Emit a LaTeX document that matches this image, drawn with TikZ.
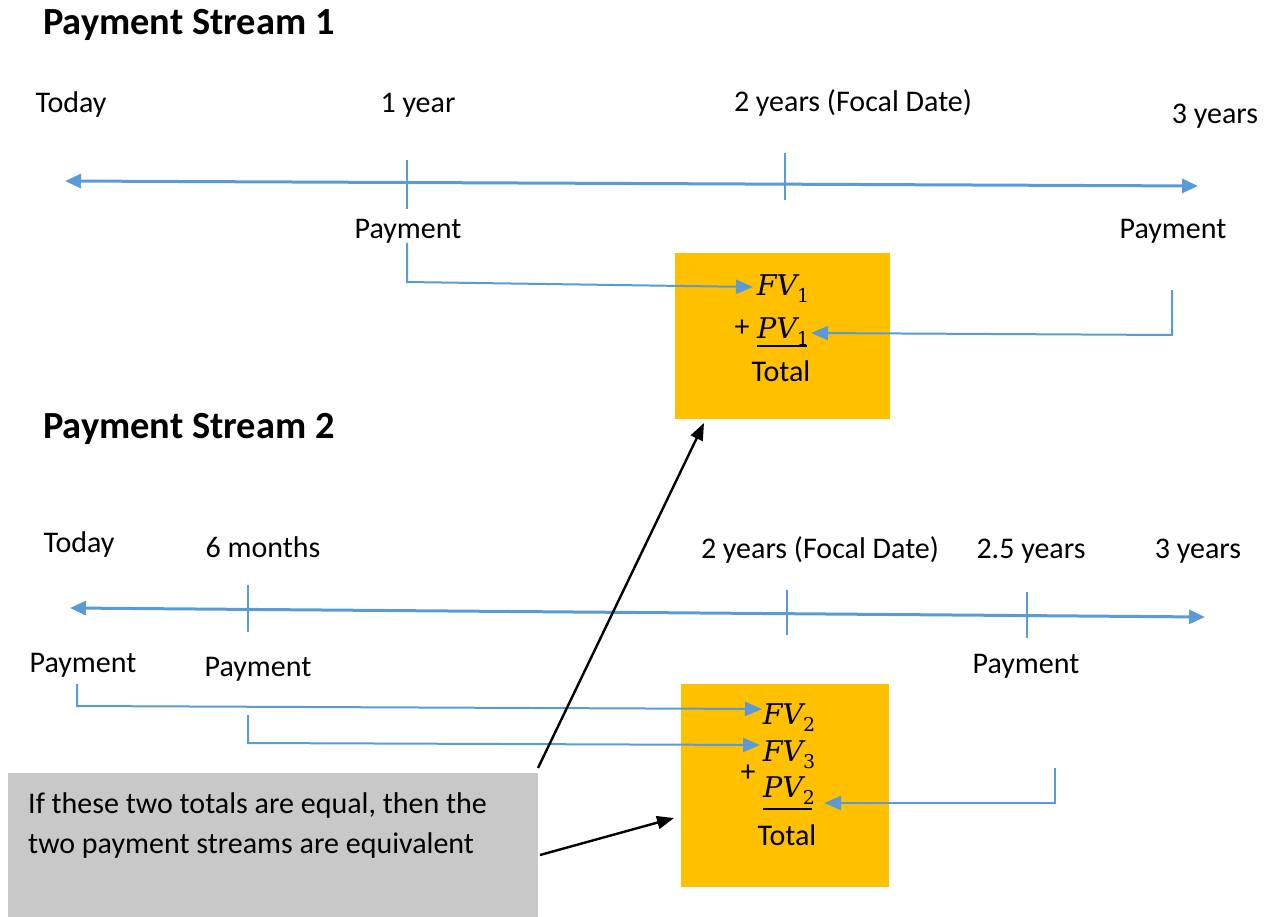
\documentclass[tikz,border=0pt]{standalone}
\usepackage{fontspec}
\setmainfont{Carlito}
\newfontfamily\mf{DejaVu Serif}
\newcommand{\subidx}[1]{\raisebox{-0.25em}{\fontsize{19}{21}\selectfont\upshape #1}}
\usetikzlibrary{arrows.meta}
\definecolor{axisblue}{HTML}{5B9BD5}
\definecolor{boxorange}{HTML}{FFC000}
\definecolor{notegray}{HTML}{C8C8C8}
\begin{document}
\begin{tikzpicture}[x=1pt,y=-1pt,
 lbl/.style={font=\fontsize{30}{36}\selectfont, inner sep=0pt, anchor=base},
 head/.style={font=\bfseries\fontsize{38.4}{46}\selectfont, inner sep=0pt, anchor=base west},
 mathlbl/.style={font=\mf\itshape\fontsize{28.5}{32}\selectfont, inner sep=1pt, anchor=base},
 axis/.style={draw=axisblue, line width=3pt, {Triangle[length=16pt,width=14pt]}-{Triangle[length=16pt,width=14pt]}},
 tickmark/.style={draw=axisblue, line width=1.6pt},
 conn/.style={draw=axisblue, line width=2pt, -{Triangle[length=17pt,width=14pt]}},
 totalbox/.style={fill=boxorange, draw=none, inner sep=0pt, anchor=north west},
 notebox/.style={fill=notegray, draw=none, inner sep=0pt, anchor=north west},
 pointer/.style={draw=black, line width=2.4pt, -{Triangle[length=17pt,width=13pt]}},
 rule/.style={draw=black, line width=1.8pt}]

\useasboundingbox (0,0) rectangle (1281,917);

% ---------- Payment Stream 1 ----------
\node[head] (h1) at (43,35) {Payment Stream 1};
\node[lbl] (s1today) at (71,113) {Today};
\node[lbl] (s1y1) at (418,113) {1 year};
\node[lbl] (s1y2) at (853,112) {2 years (Focal Date)};
\node[lbl] (s1y3) at (1215,124) {3 years};

\coordinate (a1l) at (65,181);
\coordinate (a1r) at (1198,186);
\draw[axis] (a1l) -- (a1r);
\coordinate (t1at) at (407,160); \coordinate (t1ab) at (407,209);
\coordinate (t1bt) at (785,153); \coordinate (t1bb) at (785,200);
\draw[tickmark] (t1at) -- (t1ab);
\draw[tickmark] (t1bt) -- (t1bb);

\node[lbl] (s1p1) at (408,239) {Payment};
\node[lbl] (s1p3) at (1173,239) {Payment};

\node[totalbox, minimum width=215pt, minimum height=166pt] (box1) at (675,253) {};
\node[mathlbl] (fv1) at (783,295) {FV\subidx{1}};
\node[lbl] (plus1) at (742,336) {+};
\node[mathlbl] (pv1) at (783,338) {PV\subidx{1}};
\draw[rule] (757,346) -- (807,346);
\node[lbl] (tot1) at (781,381) {Total};

\coordinate (c1a) at (407,243);
\coordinate (c1k) at (407,282);
\coordinate (fv1in) at (753,287);
\draw[conn] (c1a) -- (c1k) -- (fv1in);
\coordinate (c1b) at (1172,290);
\coordinate (c1bk) at (1172,335);
\coordinate (pv1in) at (811,333);
\draw[conn] (c1b) -- (c1bk) -- (pv1in);

% ---------- Payment Stream 2 ----------
\node[head] (h2) at (43,438) {Payment Stream 2};
\node[lbl] (s2today) at (79,552) {Today};
\node[lbl] (s2m6) at (263,557) {6 months};
\node[lbl] (s2y2) at (820,558) {2 years (Focal Date)};
\node[lbl] (s2y25) at (1031,558) {2.5 years};
\node[lbl] (s2y3) at (1198,558) {3 years};

\coordinate (a2l) at (70,608);
\coordinate (a2r) at (1205,617);
\draw[axis] (a2l) -- (a2r);
\coordinate (t2at) at (248,585); \coordinate (t2ab) at (248,632);
\coordinate (t2bt) at (787,590); \coordinate (t2bb) at (787,635);
\coordinate (t2ct) at (1027,592); \coordinate (t2cb) at (1027,638);
\draw[tickmark] (t2at) -- (t2ab);
\draw[tickmark] (t2bt) -- (t2bb);
\draw[tickmark] (t2ct) -- (t2cb);

\node[lbl] (s2p0) at (83,672) {Payment};
\node[lbl] (s2p1) at (258,676) {Payment};
\node[lbl] (s2p3) at (1026,673) {Payment};

\node[totalbox, minimum width=208pt, minimum height=203pt] (box2) at (681,684) {};
\node[mathlbl] (fv2) at (789,724) {FV\subidx{2}};
\node[mathlbl] (fv3) at (789,761) {FV\subidx{3}};
\node[lbl] (plus2) at (748,781) {+};
\node[mathlbl] (pv2) at (789,797) {PV\subidx{2}};
\draw[rule] (763,809) -- (812,809);
\node[lbl] (tot2) at (787,845) {Total};

\coordinate (c2a) at (77,684);
\coordinate (c2ak) at (77,706);
\coordinate (fv2in) at (762,709);
\draw[conn] (c2a) -- (c2ak) -- (fv2in);
\coordinate (c2b) at (248,715);
\coordinate (c2bk) at (248,743);
\coordinate (fv3in) at (760,745);
\draw[conn] (c2b) -- (c2bk) -- (fv3in);
\coordinate (c2c) at (1055,768);
\coordinate (c2ck) at (1055,803);
\coordinate (pv2in) at (824,803);
\draw[conn] (c2c) -- (c2ck) -- (pv2in);

% ---------- note ----------
\node[notebox, minimum width=530pt, minimum height=144pt] (note) at (8,773) {};
\node[lbl, anchor=base west] (n1) at (28,813) {If these two totals are equal, then the};
\node[lbl, anchor=base west] (n2) at (28,853) {two payment streams are equivalent};

\coordinate (pa) at (538,768);
\coordinate (pb) at (540,855);
\coordinate (box1in) at (704,423);
\coordinate (box2in) at (674,818);
\draw[pointer] (pa) -- (box1in);
\draw[pointer] (pb) -- (box2in);
\end{tikzpicture}
\end{document}
